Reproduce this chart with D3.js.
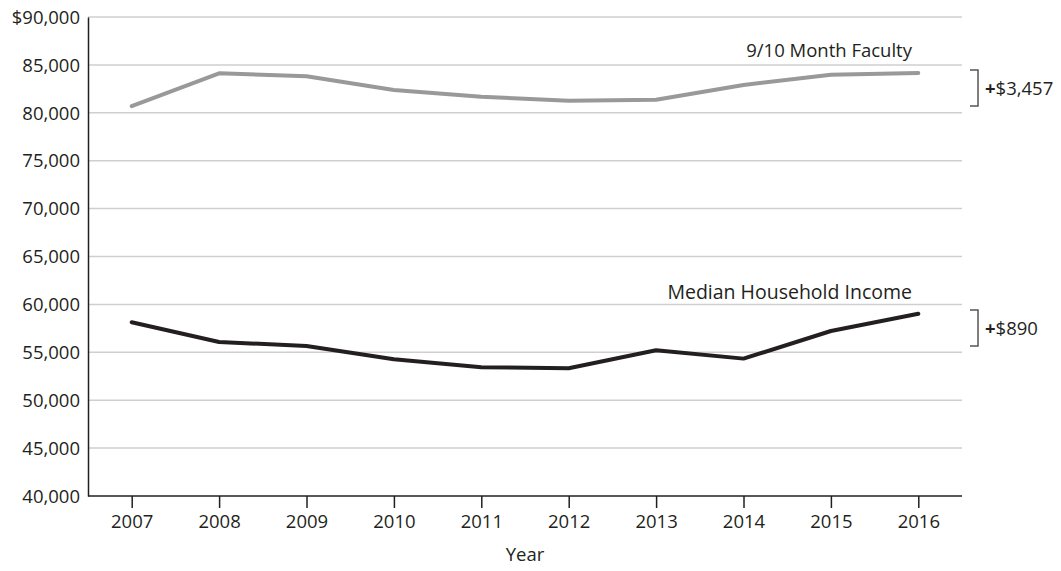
<!DOCTYPE html>
<html>
<head>
<meta charset="utf-8">
<script src="https://cdn.jsdelivr.net/npm/d3@7"></script>
<style>
  body { margin: 0; background: #fff; }
  text { font-family: "Open Sans", "Noto Sans", sans-serif; fill: #231f20; }
</style>
</head>
<body>
<div id="chart"></div>
<script>
// data
const years = [2007, 2008, 2009, 2010, 2011, 2012, 2013, 2014, 2015, 2016];
const faculty = [80700, 84120, 83810, 82380, 81680, 81260, 81370, 82900, 83980, 84157];
const household = [58140, 56075, 55660, 54270, 53440, 53330, 55210, 54340, 57220, 59030];
const yTicks = [40000, 45000, 50000, 55000, 60000, 65000, 70000, 75000, 80000, 85000, 90000];
const seriesNames = ["9/10 Month Faculty", "Median Household Income"];
const changeLabels = ["$3,457", "$890"];
// bracket extents, in dollars
const bracketTop = [84470, 59420];
const bracketBottom = [80710, 55660];

const width = 1061, height = 571;
const margin = { top: 17, right: 99, bottom: 75, left: 88 };
const fontSize = "18.5px";

const svg = d3.select("#chart")
  .append("svg")
  .attr("width", width)
  .attr("height", height);

const x = d3.scalePoint()
  .domain(years)
  .range([margin.left, width - margin.right])
  .padding(0.5);

const y = d3.scaleLinear()
  .domain([40000, 90000])
  .range([height - margin.bottom, margin.top]);

// gridlines
svg.append("g")
  .selectAll("line")
  .data(yTicks.slice(1))
  .join("line")
  .attr("x1", margin.left)
  .attr("x2", width - margin.right)
  .attr("y1", d => y(d))
  .attr("y2", d => y(d))
  .attr("stroke", "#cfcfcf")
  .attr("stroke-width", 1.5);

// y axis
const fmt = d3.format(",");
const yAxis = svg.append("g")
  .attr("transform", `translate(${margin.left},0)`)
  .call(d3.axisLeft(y).tickValues(yTicks).tickSize(0).tickPadding(8)
    .tickFormat(d => d === 90000 ? "$" + fmt(d) : fmt(d)));
yAxis.select(".domain").attr("stroke", "#231f20").attr("stroke-width", 1.5);
yAxis.selectAll("text").style("font-size", fontSize).attr("dy", "0.34em");

// x axis
const xAxis = svg.append("g")
  .attr("transform", `translate(0,${height - margin.bottom})`)
  .call(d3.axisBottom(x).tickSize(12).tickPadding(7).tickFormat(d => d));
xAxis.select(".domain")
  .attr("d", `M${margin.left},0H${width - margin.right}`)
  .attr("stroke", "#231f20").attr("stroke-width", 1.5);
xAxis.selectAll(".tick line").attr("stroke", "#231f20").attr("stroke-width", 1.5);
xAxis.selectAll("text").style("font-size", fontSize);

svg.append("text")
  .attr("x", (margin.left + width - margin.right) / 2)
  .attr("y", 561)
  .attr("text-anchor", "middle")
  .style("font-size", fontSize)
  .text("Year");

// lines
const line = d3.line()
  .x((d, i) => x(years[i]))
  .y(d => y(d));

const series = [faculty, household];
const colors = ["#999999", "#231f20"];

svg.append("g")
  .selectAll("path")
  .data(series)
  .join("path")
  .attr("d", line)
  .attr("fill", "none")
  .attr("stroke", (d, i) => colors[i])
  .attr("stroke-width", 4)
  .attr("stroke-linejoin", "round")
  .attr("stroke-linecap", "round");

// series labels
const labelY = [57, 299];
svg.append("g")
  .selectAll("text")
  .data(seriesNames)
  .join("text")
  .attr("x", 912)
  .attr("y", (d, i) => labelY[i])
  .attr("text-anchor", "end")
  .style("font-size", (d, i) => i === 1 ? "19.5px" : fontSize)
  .text(d => d);

// change brackets
const bx = 978;
svg.append("g")
  .selectAll("path")
  .data(changeLabels)
  .join("path")
  .attr("d", (d, i) => `M${bx - 8},${y(bracketTop[i])}H${bx}V${y(bracketBottom[i])}H${bx - 8}`)
  .attr("fill", "none")
  .attr("stroke", "#555")
  .attr("stroke-width", 1.5);

const change = svg.append("g")
  .selectAll("text")
  .data(changeLabels)
  .join("text")
  .attr("x", bx + 7)
  .attr("y", (d, i) => (y(bracketTop[i]) + y(bracketBottom[i])) / 2 + 7)
  .style("font-size", fontSize);
change.append("tspan").style("font-weight", "bold").text("+");
change.append("tspan").text(d => d);
</script>
</body>
</html>
